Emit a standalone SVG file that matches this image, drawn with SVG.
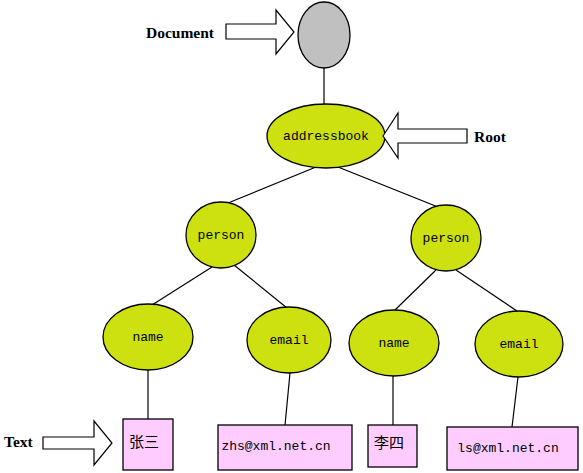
<svg xmlns="http://www.w3.org/2000/svg" width="583" height="473" viewBox="0 0 583 473">
<style>
.el{fill:#cde010;stroke:#000;stroke-width:1.3}
.doc{fill:#c0c0c0;stroke:#000;stroke-width:1.3}
.box{fill:#ffccff;stroke:#000;stroke-width:1.3}
.lbl{font-family:"Liberation Mono","DejaVu Sans Mono",monospace;font-size:13px;fill:#000;text-anchor:middle;dominant-baseline:central}
.cjk{font-family:"Noto Sans CJK SC","Noto Sans CJK TC",sans-serif;font-size:15px;fill:#000;text-anchor:middle;dominant-baseline:central}
.note{font-family:"Liberation Serif",serif;font-weight:bold;font-size:15.5px;fill:#000;dominant-baseline:central}
.arr{fill:#fff;stroke:#000;stroke-width:1.2}
.edge{stroke:#000;stroke-width:1.2;fill:none}
</style>
<rect width="583" height="473" fill="#fff"/>
<g id="connectors">
<line class="edge" x1="324" y1="68" x2="324" y2="104"/>
<line class="edge" x1="316" y1="167" x2="228" y2="203"/>
<line class="edge" x1="338" y1="167" x2="438" y2="207"/>
<line class="edge" x1="212" y1="267" x2="152" y2="305"/>
<line class="edge" x1="234" y1="265" x2="287" y2="308"/>
<line class="edge" x1="436" y1="270" x2="395" y2="310"/>
<line class="edge" x1="456" y1="270" x2="517" y2="311"/>
<line class="edge" x1="148" y1="370" x2="148" y2="419"/>
<line class="edge" x1="290" y1="373" x2="285" y2="425"/>
<line class="edge" x1="393" y1="376" x2="393" y2="425"/>
<line class="edge" x1="518" y1="377" x2="512" y2="427"/>
</g>
<g id="document">
<ellipse class="doc" cx="324" cy="35" rx="26" ry="33"/>
</g>
<g id="document-label">
<text class="note" x="146" y="32">Document</text>
<polygon class="arr" points="226,24 276,24 276,10 294,32 276,54 276,39 226,39"/>
</g>
<g id="addressbook">
<ellipse class="el" cx="326" cy="136" rx="59" ry="32"/>
<text class="lbl" x="326" y="136">addressbook</text>
</g>
<g id="root-label">
<polygon class="arr" points="383,136 398,113 398,129 467,129 467,143 398,143 398,158"/>
<text class="note" x="474" y="136">Root</text>
</g>
<g id="person1">
<ellipse class="el" cx="221" cy="235" rx="35" ry="33"/>
<text class="lbl" x="221" y="235">person</text>
</g>
<g id="person2">
<ellipse class="el" cx="446" cy="238" rx="35" ry="33"/>
<text class="lbl" x="446" y="238">person</text>
</g>
<g id="name1">
<ellipse class="el" cx="148" cy="337" rx="45" ry="33"/>
<text class="lbl" x="148" y="337">name</text>
</g>
<g id="email1">
<ellipse class="el" cx="289" cy="340" rx="42" ry="33"/>
<text class="lbl" x="289" y="340">email</text>
</g>
<g id="name2">
<ellipse class="el" cx="394" cy="343" rx="45" ry="33"/>
<text class="lbl" x="394" y="343">name</text>
</g>
<g id="email2">
<ellipse class="el" cx="519" cy="344" rx="44" ry="33"/>
<text class="lbl" x="519" y="344">email</text>
</g>
<g id="text1">
<rect class="box" x="123" y="419" width="50" height="51"/>
<text class="cjk" x="144" y="440">张三</text>
</g>
<g id="text2">
<rect class="box" x="218" y="425" width="134" height="45"/>
<text class="lbl" x="276" y="446">zhs@xml.net.cn</text>
</g>
<g id="text3">
<rect class="box" x="368" y="425" width="49" height="42"/>
<text class="cjk" x="389" y="441">李四</text>
</g>
<g id="text4">
<rect class="box" x="447" y="427" width="131" height="43"/>
<text class="lbl" x="508" y="448">ls@xml.net.cn</text>
</g>
<g id="text-label">
<text class="note" x="4" y="441">Text</text>
<polygon class="arr" points="43,437 94,437 94,421 112,443 94,465 94,449 43,449"/>
</g>
</svg>
